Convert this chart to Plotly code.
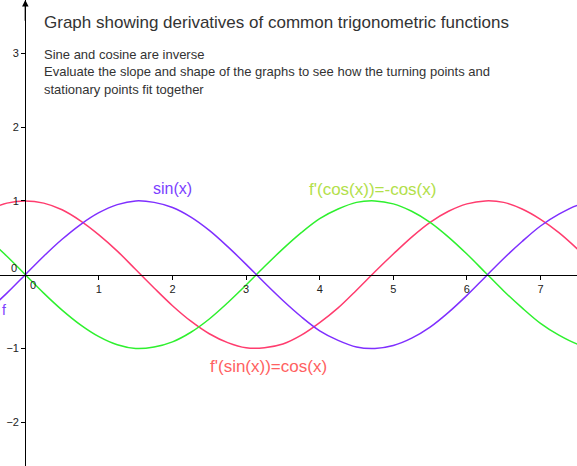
import plotly.graph_objects as go

# ---- data ----
x_vals = [-0.5, -0.25, 0.0, 0.25, 0.5, 0.75, 1.0, 1.25, 1.5, 1.75, 2.0, 2.25, 2.5, 2.75,
          3.0, 3.25, 3.5, 3.75, 4.0, 4.25, 4.5, 4.75, 5.0, 5.25, 5.5, 5.75, 6.0, 6.25,
          6.5, 6.75, 7.0, 7.25, 7.5, 7.75]
sin_vals = [-0.48, -0.25, 0.00, 0.25, 0.48, 0.68, 0.84, 0.95, 1.00, 0.98, 0.91, 0.78, 0.60, 0.38,
            0.14, -0.11, -0.35, -0.57, -0.76, -0.89, -0.98, -1.00, -0.96, -0.86, -0.71, -0.51,
            -0.28, -0.03, 0.22, 0.45, 0.66, 0.82, 0.94, 0.99]
cos_vals = [0.88, 0.97, 1.00, 0.97, 0.88, 0.73, 0.54, 0.32, 0.07, -0.18, -0.42, -0.63, -0.80, -0.92,
            -0.99, -0.99, -0.94, -0.82, -0.65, -0.45, -0.21, 0.04, 0.28, 0.51, 0.71, 0.86,
            0.96, 1.00, 0.98, 0.89, 0.75, 0.57, 0.35, 0.11]
green_vals = [0.48, 0.25, 0.00, -0.25, -0.48, -0.68, -0.84, -0.95, -1.00, -0.98, -0.91, -0.78, -0.60, -0.38,
              -0.14, 0.11, 0.35, 0.57, 0.76, 0.89, 0.98, 1.00, 0.96, 0.86, 0.71, 0.51,
              0.28, 0.03, -0.22, -0.45, -0.66, -0.82, -0.94, -0.99]
x_ticks = [1, 2, 3, 4, 5, 6, 7]
y_ticks = [-2, -1, 1, 2, 3]

title_text = "Graph showing derivatives of common trigonometric functions"
body_lines = ["Sine and cosine are inverse",
              "Evaluate the slope and shape of the graphs to see how the turning points and",
              "stationary points fit together"]

W, H = 577, 466
X0PX, UX = 25.3, 73.6
Y0PX, UY = 274.7, 73.8
xr = [-X0PX / UX, (W - X0PX) / UX]
yr = [-(H - Y0PX) / UY, Y0PX / UY]

def px_x(p):
    return (p - X0PX) / UX

def px_y(p):
    return (Y0PX - p) / UY

FONT = "Liberation Sans, Arial, Helvetica, sans-serif"
C_SIN = "#7f2fff"
C_COS = "#ff3c6e"
C_NEG = "#2ef02e"

fig = go.Figure()
fig.add_trace(go.Scatter(x=x_vals, y=cos_vals, mode="lines", line=dict(color=C_COS, width=1.5, shape="spline")))
fig.add_trace(go.Scatter(x=x_vals, y=green_vals, mode="lines", line=dict(color=C_NEG, width=1.5, shape="spline")))
fig.add_trace(go.Scatter(x=x_vals, y=sin_vals, mode="lines", line=dict(color=C_SIN, width=1.5, shape="spline")))

ann = []
ann.append(dict(x=px_x(42), y=px_y(22), text=title_text, showarrow=False, xanchor="left", yanchor="middle",
                font=dict(size=17, color="#333333", family=FONT)))
for i, t in enumerate(body_lines):
    ann.append(dict(x=px_x(42), y=px_y(54 + 17.5 * i), text=t, showarrow=False, xanchor="left", yanchor="middle",
                    font=dict(size=13, color="#333333", family=FONT)))
ann.append(dict(x=px_x(172), y=px_y(188), text="sin(x)", showarrow=False, font=dict(size=16, color="#7b3fff", family=FONT)))
ann.append(dict(x=px_x(372), y=px_y(189), text="f'(cos(x))=-cos(x)", showarrow=False, font=dict(size=17, color="#b2e04a", family=FONT)))
ann.append(dict(x=px_x(268), y=px_y(366), text="f'(sin(x))=cos(x)", showarrow=False, font=dict(size=17, color="#ff6161", family=FONT)))
ann.append(dict(x=0, xref="paper", y=px_y(310), text="f", showarrow=False, xanchor="left",
                font=dict(size=14, color="#7b3fff", family=FONT)))
ann.append(dict(x=px_x(33), y=px_y(285), text="0", showarrow=False, font=dict(size=11, color="#222222", family=FONT)))
ann.append(dict(x=px_x(14), y=px_y(268), text="0", showarrow=False, font=dict(size=11, color="#222222", family=FONT)))
# arrow on top of the y axis
ann.append(dict(x=0, y=yr[1], ax=0, ay=yr[1] - 0.3, xref="x", yref="y", axref="x", ayref="y",
                text="", showarrow=True, arrowhead=2, arrowsize=1, arrowwidth=1.3, arrowcolor="black"))

fig.update_layout(
    width=W, height=H, margin=dict(l=0, r=0, t=0, b=0, autoexpand=False),
    paper_bgcolor="white", plot_bgcolor="white", showlegend=False,
    annotations=ann,
    xaxis=dict(range=xr, showgrid=False, zeroline=False, showline=True, linecolor="black", linewidth=1.3,
               anchor="free", position=(0 - yr[0]) / (yr[1] - yr[0]), side="bottom", automargin=False,
               tickvals=x_ticks, ticks="outside", ticklen=4, tickwidth=1, tickcolor="black",
               tickfont=dict(size=11, color="#222222", family=FONT), fixedrange=True),
    yaxis=dict(range=yr, showgrid=False, zeroline=False, showline=True, linecolor="black", linewidth=1.3,
               anchor="free", position=(0 - xr[0]) / (xr[1] - xr[0]), side="left", automargin=False,
               tickvals=y_ticks, ticks="outside", ticklen=4, tickwidth=1, tickcolor="black",
               tickfont=dict(size=11, color="#222222", family=FONT), fixedrange=True),
)

fig.write_html("out.html", config={"displayModeBar": False},
               post_script="document.body.style.margin='0';document.body.style.overflow='hidden';")
